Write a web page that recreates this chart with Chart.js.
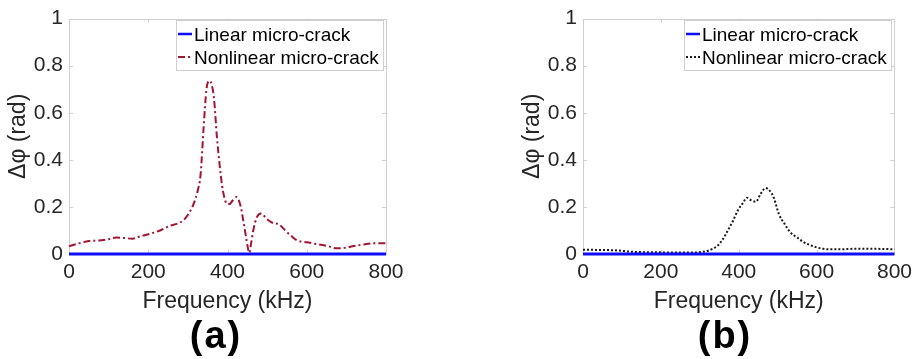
<!DOCTYPE html>
<html>
<head>
<meta charset="utf-8">
<script src="https://cdn.jsdelivr.net/npm/chart.js@4/dist/chart.umd.min.js"></script>
<style>
  html, body { margin: 0; padding: 0; background: #ffffff; }
  body { width: 918px; height: 359px; position: relative; overflow: hidden; font-family: "Liberation Sans", Arial, sans-serif; }
  .panel { position: absolute; top: 0; width: 459px; height: 359px; }
  .cap { position: absolute; top: 314px; font-weight: bold; font-size: 38px; letter-spacing: 2px; color: #000; width: 120px; text-align: center; line-height: 42px; }
</style>
</head>
<body>
<div class="panel" style="left:0"><canvas id="ca" width="459" height="359"></canvas></div>
<div class="panel" style="left:459px"><canvas id="cb" width="459" height="359"></canvas></div>
<div class="cap" style="left:156px">(a)</div>
<div class="cap" style="left:665px">(b)</div>
<script>
// ---- data ----
const xTicks = [0, 200, 400, 600, 800];
const yTicks = [0, 0.2, 0.4, 0.6, 0.8, 1];
const seriesNames = ['Linear micro-crack', 'Nonlinear micro-crack'];
const xLabel = 'Frequency (kHz)';
const yLabel = 'Δφ (rad)';

const freqLin = [0, 800];
const linA = [0, 0];
const linB = [0, 0];

const freqA = [0, 25, 50, 75, 100, 120, 140, 160, 180, 205, 230, 255, 275, 290, 305, 315, 325, 332, 340, 347, 354, 360, 366, 373, 380, 386, 392, 398, 405, 412, 423, 433, 440, 446, 451, 455, 459, 465, 474, 485, 499, 516, 528, 540, 550, 562, 575, 600, 625, 650, 676, 695, 710, 740, 770, 800];
const phaseA = [0.033, 0.045, 0.055, 0.057, 0.063, 0.07, 0.068, 0.065, 0.075, 0.086, 0.10, 0.12, 0.13, 0.145, 0.18, 0.215, 0.27, 0.336, 0.545, 0.70, 0.736, 0.72, 0.66, 0.503, 0.38, 0.295, 0.24, 0.214, 0.212, 0.225, 0.242, 0.204, 0.14, 0.08, 0.03, 0.005, 0.04, 0.1, 0.156, 0.172, 0.149, 0.131, 0.128, 0.11, 0.093, 0.075, 0.058, 0.05, 0.042, 0.035, 0.024, 0.026, 0.031, 0.04, 0.046, 0.046];

const freqB = [0, 50, 90, 120, 150, 200, 250, 290, 305, 321, 335, 347, 360, 372, 385, 397, 410, 421, 432, 444, 456, 469, 480, 490, 503, 517, 532, 550, 566, 583, 600, 617, 634, 660, 700, 750, 800];
const phaseB = [0.018, 0.017, 0.015, 0.01, 0.008, 0.007, 0.006, 0.006, 0.009, 0.014, 0.024, 0.037, 0.065, 0.1, 0.14, 0.183, 0.215, 0.239, 0.228, 0.222, 0.255, 0.28, 0.268, 0.239, 0.17, 0.13, 0.093, 0.07, 0.051, 0.038, 0.028, 0.022, 0.02, 0.02, 0.022, 0.022, 0.02];

// ---- styling ----
const FONT = '"Liberation Sans", Arial, sans-serif';
const TXT = '#262626';
const BOX = '#cfcfcf';
const BLUE = '#0d0dff';

function pts(xs, ys) { return xs.map((x, i) => ({ x: x, y: ys[i] })); }

const frameAndLegend = {
  id: 'frameAndLegend',
  beforeDatasetsDraw(chart) {
    const { ctx, chartArea: a, scales } = chart;
    ctx.save();
    ctx.strokeStyle = BOX;
    ctx.lineWidth = 1;
    ctx.strokeRect(Math.round(a.left) + 0.5, Math.round(a.top) + 0.5, Math.round(a.right - a.left), Math.round(a.bottom - a.top));
    const tl = 4;
    ctx.beginPath();
    scales.x.ticks.forEach(t => {
      if (t.value <= scales.x.min || t.value >= scales.x.max) return;
      const px = Math.round(scales.x.getPixelForValue(t.value)) + 0.5;
      ctx.moveTo(px, a.bottom); ctx.lineTo(px, a.bottom - tl);
      ctx.moveTo(px, a.top); ctx.lineTo(px, a.top + tl);
    });
    scales.y.ticks.forEach(t => {
      if (t.value <= scales.y.min || t.value >= scales.y.max) return;
      const py = Math.round(scales.y.getPixelForValue(t.value)) + 0.5;
      ctx.moveTo(a.left, py); ctx.lineTo(a.left + tl, py);
      ctx.moveTo(a.right, py); ctx.lineTo(a.right - tl, py);
    });
    ctx.stroke();
    ctx.restore();
  },
  afterDraw(chart) {
    const { ctx, chartArea: a } = chart;
    const ds = chart.data.datasets;
    ctx.save();
    ctx.font = '19px ' + FONT;
    const lineLen = 14, gap = 2, padR = 5;
    let tw = 0;
    ds.forEach(d => { tw = Math.max(tw, ctx.measureText(d.label).width); });
    const w = Math.round(lineLen + gap + tw + padR + 1);
    const h = 50;
    const right = a.right - 3;
    const left = Math.round(right - w);
    const top = Math.round(a.top + 1);
    ctx.fillStyle = '#ffffff';
    ctx.fillRect(left, top, w, h);
    ctx.strokeStyle = BOX;
    ctx.lineWidth = 1;
    ctx.strokeRect(left + 0.5, top + 0.5, w, h);
    const rows = [top + 14, top + 37];
    ds.forEach((d, i) => {
      ctx.beginPath();
      ctx.strokeStyle = d.borderColor;
      ctx.lineWidth = Math.min(d.borderWidth, 2.5);
      ctx.setLineDash(d.borderDash || []);
      ctx.moveTo(left + 2, rows[i]);
      ctx.lineTo(left + 2 + lineLen, rows[i]);
      ctx.stroke();
      ctx.setLineDash([]);
      ctx.fillStyle = '#000000';
      ctx.textBaseline = 'alphabetic';
      ctx.textAlign = 'left';
      ctx.fillText(d.label, left + 2 + lineLen + gap, rows[i] + 7);
    });
    ctx.restore();
  }
};

function makeChart(id, linY, nlX, nlY, nlColor, nlDash, padLeft, padRight) {
  return new Chart(document.getElementById(id), {
    type: 'line',
    data: {
      datasets: [
        { label: seriesNames[0], data: pts(freqLin, linY), borderColor: BLUE, borderWidth: 3, pointRadius: 0, clip: false, order: 1 },
        { label: seriesNames[1], data: pts(nlX, nlY), borderColor: nlColor, borderWidth: 2, borderDash: nlDash, pointRadius: 0, cubicInterpolationMode: 'monotone', clip: false, order: 2 }
      ]
    },
    options: {
      responsive: false,
      animation: false,
      devicePixelRatio: 1,
      layout: { padding: { left: padLeft, right: padRight, top: 14, bottom: 40 } },
      plugins: { legend: { display: false }, tooltip: { enabled: false } },
      scales: {
        x: {
          type: 'linear', min: 0, max: 800,
          afterBuildTicks: s => { s.ticks = xTicks.map(v => ({ value: v })); },
          afterFit: s => { s.height = 65; },
          grid: { display: false, drawTicks: false },
          border: { display: false },
          ticks: { color: TXT, font: { family: FONT, size: 21 }, padding: 6, maxRotation: 0 },
          title: { display: true, text: xLabel, color: TXT, font: { family: FONT, size: 23 }, padding: 4 }
        },
        y: {
          type: 'linear', min: 0, max: 1,
          afterBuildTicks: s => { s.ticks = yTicks.map(v => ({ value: v })); },
          afterFit: s => { s.width = 69; },
          grid: { display: false, drawTicks: false },
          border: { display: false },
          ticks: { color: TXT, font: { family: FONT, size: 21 }, padding: 6, callback: v => String(Math.round(v * 10) / 10) },
          title: { display: true, text: yLabel, color: TXT, font: { family: FONT, size: 23 }, padding: { top: 5 } }
        }
      }
    },
    plugins: [frameAndLegend]
  });
}

makeChart('ca', linA, freqA, phaseA, '#a2142f', [7, 3, 2, 3], 0, 73);
makeChart('cb', linB, freqB, phaseB, '#1a1a1a', [2, 2], 55, 19);
</script>
</body>
</html>
